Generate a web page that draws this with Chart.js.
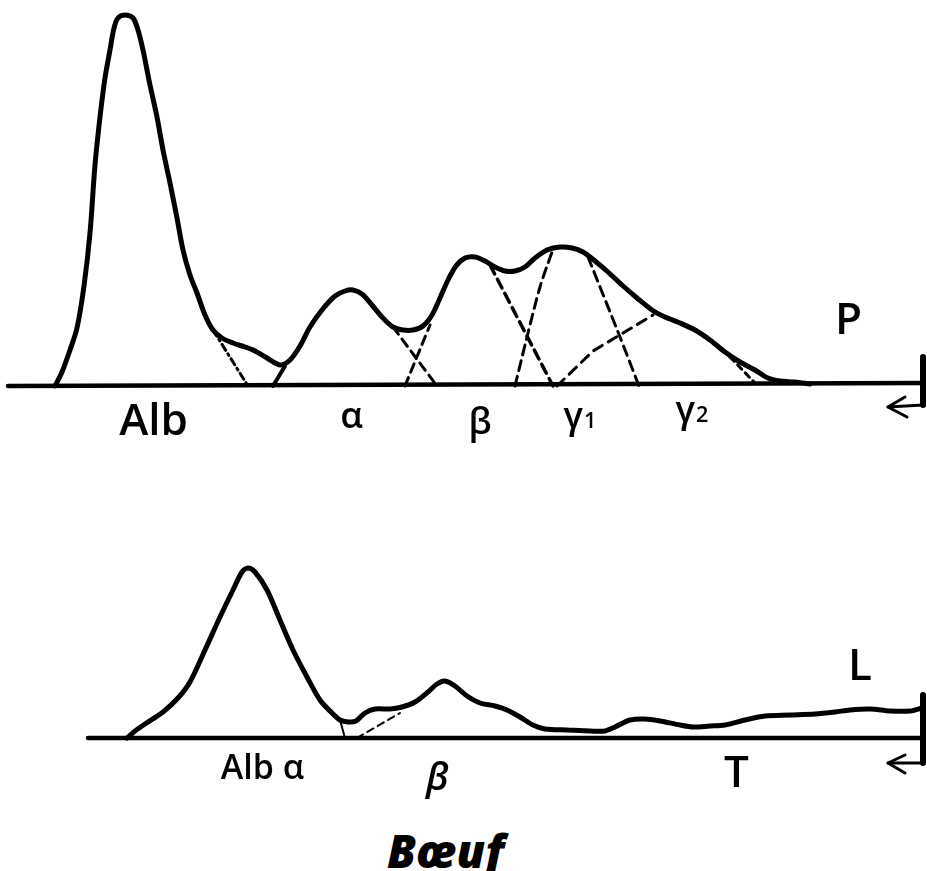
<!DOCTYPE html>
<html>
<head>
<meta charset="utf-8">
<script src="https://cdn.jsdelivr.net/npm/chart.js@4/dist/chart.umd.min.js"></script>
<style>
  body { margin: 0; background: #fff; }
  #wrap { position: relative; width: 927px; height: 871px; background: #fff; overflow: hidden; }
  canvas { position: absolute; left: 0; }
  #serumChart { top: 0; }
  #lymphChart { top: 520px; }
  .lbl {
    position: absolute; color: #000; white-space: nowrap; line-height: 1; font-weight: 600;
    font-family: "Open Sans", "DejaVu Sans", "Noto Sans", sans-serif;
  }
  .lbl small { font-size: 0.6em; margin-left: 1px; }
</style>
</head>
<body>
<div id="wrap">
  <canvas id="serumChart" width="927" height="430"></canvas>
  <canvas id="lymphChart" width="927" height="270"></canvas>
</div>
<script>
// Migration distance (x) vs optical density (y)

// P (serum) trace
var serumTrace = [
    [5.5, 0], [6.2, 3.5], [7.0, 9], [7.7, 14.5], [8.4, 25], [9.0, 38.25], [9.5, 55.25],
    [10.0, 67.25], [10.5, 77], [11.0, 84], [11.4, 89.5], [11.8, 92], [12.5, 92.75],
    [13.3, 92], [13.8, 89], [14.3, 84], [15.0, 75.25], [15.7, 67.25], [16.3, 59],
    [17.0, 50.75], [17.7, 42], [18.3, 34], [19.0, 27.75], [19.7, 23.25], [20.5, 17.75],
    [21.3, 14], [22.2, 12], [23.3, 10.75], [24.5, 9.75], [25.5, 8.75], [26.7, 7],
    [28.0, 5.25], [29.0, 6.5], [30.0, 10], [31.0, 14.75], [32.2, 19], [33.5, 22.5],
    [34.5, 23.75], [35.3, 24], [36.2, 23], [37.2, 20.25], [38.2, 17.25], [39.3, 14.75],
    [40.3, 14], [41.3, 14], [42.3, 15], [43.2, 17.75], [44.0, 22], [44.8, 26.5],
    [45.6, 30], [46.5, 32], [47.5, 32.25], [48.5, 31.25], [49.5, 29.75], [50.5, 28.75],
    [51.5, 28.75], [52.5, 29.75], [53.5, 32], [54.7, 34], [56.0, 34.75], [57.2, 34.5],
    [58.3, 33.5], [59.5, 31.25], [60.8, 28.5], [62.2, 25.25], [63.7, 22], [65.2, 19],
    [66.5, 17.25], [68.0, 15.75], [69.5, 14], [71.0, 11.5], [72.5, 8.5], [74.0, 6],
    [75.5, 4], [76.8, 2], [78.0, 1.25], [79.5, 1], [81.0, 0.5]
];
var serumAlphaFoot = [[27.3, 0], [28.5, 5]];

// P fraction boundaries (dashed)
var serumAlbTail = [[21.3, 14], [24.8, 0]];
var serumAlphaTail = [[39.3, 14.75], [43.7, 0]];
var serumBetaFoot = [[40.5, 0], [43.0, 15.25]];
var serumBetaTail = [[49.0, 30.25], [55.3, 0]];
var serumGamma1Foot = [[51.5, 0], [52.7, 12.25], [54.0, 24.75], [55.2, 33.5]];
var serumGamma1Tail = [[58.8, 32.25], [62.0, 12.25], [63.9, 0]];
var serumGamma2Foot = [[55.7, 0], [59.3, 8.75], [65.3, 17.75]];
var serumGamma2Tail = [[73.0, 7.25], [75.5, 0.75]];

var serumBaseline = [[0.8, 0], [92.2, 0.75]];
var serumStart = [[92.3, 7.25], [92.3, -4.75]];
var serumArrow = [[92.3, -4.75], [88.8, -5.25]];
var serumArrowHead = [[90.5, -2.75], [88.8, -5.25], [90.7, -7.75]];

// L (lymph) trace
var lymphTrace = [
    [12.7, 0], [13.5, 1.75], [14.5, 3.5], [16.3, 6.5], [17.8, 10], [19.0, 14], [20.5, 22],
    [22.0, 30.25], [23.3, 37], [24.2, 41.5], [24.8, 42.5], [25.5, 41.5], [26.7, 37],
    [28.0, 29.5], [29.3, 22], [30.7, 15.25], [32.0, 9.5], [33.2, 6.25], [34.0, 4.5],
    [34.8, 4], [35.6, 4.25], [36.5, 6.25], [37.5, 7.25], [39.0, 7.25], [40.2, 7.75],
    [41.5, 9], [42.8, 11.5], [43.7, 13.5], [44.5, 14.25], [45.5, 13], [46.7, 10.5],
    [48.0, 8.75], [49.5, 8], [50.7, 7], [52.0, 5.25], [53.3, 3.25], [54.5, 2.25],
    [56.7, 2], [59.0, 1.75], [60.5, 1.75], [61.5, 2.75], [63.0, 4.5], [64.5, 4.75],
    [66.0, 4.25], [68.0, 3.25], [69.3, 2.75], [71.0, 3], [72.5, 3.25], [74.5, 4.5],
    [76.5, 5.5], [79.0, 5.75], [81.5, 6], [83.5, 6.5], [85.0, 7], [87.0, 7.25],
    [89.0, 6.75], [91.0, 6.75], [92.2, 7.5]
];
var lymphAlbTail = [[34.0, 4.5], [34.5, 0]];
var lymphBetaFoot = [[35.7, 0], [40.0, 6.25]];
var lymphBaseline = [[8.8, 0], [92.2, 0]];
var lymphStart = [[92.3, 10.75], [92.3, -6.25]];
var lymphArrow = [[92.3, -6.25], [88.8, -6.25]];
var lymphArrowHead = [[90.5, -4.25], [88.8, -6.25], [90.5, -8.75]];

// Labels: [text, x, baseline y, font size]
var serumLabels = [
    ['Alb', 15.35, -11.75, 44],
    ['\u03b1', 35.15, -10.5, 36],
    ['\u03b2', 48.0, -12.0, 36],
    ['\u03b3<small>1</small>', 58.0, -10.5, 36],
    ['\u03b3<small>2</small>', 69.2, -9.0, 36],
    ['P', 84.85, 13.5, 44]
];
var lymphLabels = [
    ['Alb \u03b1', 26.25, -10, 34],
    ['<i>\u03b2</i>', 43.75, -12.5, 38],
    ['T', 73.65, -11.75, 44],
    ['L', 86.0, 15, 44],
    ['<b><i>B\u0153uf</i></b>', 44.55, -32, 46]
];

function pts(arr) {
    return arr.map(function (p) { return { x: p[0], y: p[1] }; });
}

function line(arr, width, dash, tension) {
    return {
        data: pts(arr),
        borderColor: '#000',
        borderWidth: width,
        borderDash: dash || [],
        borderCapStyle: 'round',
        borderJoinStyle: 'round',
        tension: tension || 0,
        pointRadius: 0,
        fill: false,
        clip: false
    };
}

function makeChart(id, yMin, yMax, datasets, labels) {
    var chart = new Chart(document.getElementById(id).getContext('2d'), {
        type: 'line',
        data: { datasets: datasets },
        options: {
            responsive: false,
            animation: false,
            devicePixelRatio: 1,
            layout: { padding: 0 },
            scales: {
                x: { type: 'linear', min: 0, max: 92.7, display: false },
                y: { type: 'linear', min: yMin, max: yMax, display: false }
            },
            plugins: { legend: { display: false }, tooltip: { enabled: false } }
        }
    });

    // Place the hand-written labels through the chart's scales
    var canvas = document.getElementById(id);
    var wrap = document.getElementById('wrap');
    labels.forEach(function (l) {
        var div = document.createElement('div');
        div.className = 'lbl';
        div.innerHTML = l[0];
        div.style.fontSize = l[3] + 'px';
        var px = chart.scales.x.getPixelForValue(l[1]);
        var py = chart.scales.y.getPixelForValue(l[2]) + canvas.offsetTop;
        div.style.left = px + 'px';
        div.style.top = (py - 0.85 * l[3]) + 'px';
        div.style.transform = 'translateX(-50%)';
        wrap.appendChild(div);
    });
    return chart;
}

makeChart('serumChart', -11, 96.5, [
    line(serumBaseline, 4.5),
    line(serumTrace, 5, null, 0.3),
    line(serumAlphaFoot, 4),
    line(serumAlbTail, 3, [7, 4, 2, 4]),
    line(serumAlphaTail, 3, [9, 6]),
    line(serumBetaFoot, 3, [9, 6]),
    line(serumBetaTail, 3.5, [10, 6]),
    line(serumGamma1Foot, 3, [10, 6], 0.3),
    line(serumGamma1Tail, 3, [10, 6], 0.3),
    line(serumGamma2Foot, 3, [10, 7]),
    line(serumGamma2Tail, 3, [6, 5]),
    line(serumStart, 6),
    line(serumArrow, 3),
    line(serumArrowHead, 3)
], serumLabels);

makeChart('lymphChart', -13, 54.5, [
    line(lymphBaseline, 4.5),
    line(lymphTrace, 5, null, 0.3),
    line(lymphAlbTail, 2),
    line(lymphBetaFoot, 2, [7, 5]),
    line(lymphStart, 6),
    line(lymphArrow, 3),
    line(lymphArrowHead, 3)
], lymphLabels);
</script>
</body>
</html>
